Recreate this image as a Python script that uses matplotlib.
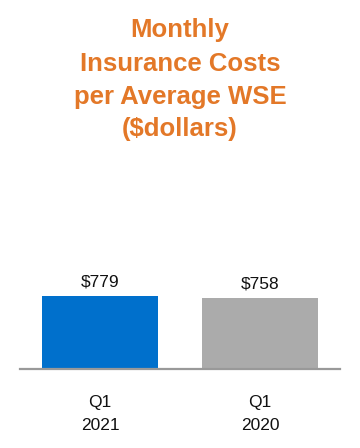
import numpy as np
import matplotlib.pyplot as plt

quarters = ["Q1\n2021", "Q1\n2020"]
costs = [779, 758]
labels = ["$779", "$758"]
colors = ["#0070CC", "#ABABAB"]

title_lines = ["Monthly", "Insurance Costs", "per Average WSE", "($dollars)"]

fig = plt.figure(figsize=(3.6, 4.48), dpi=100)
plt.rcParams['font.family'] = ['Liberation Sans', 'DejaVu Sans']

# axes: x 20..340 px, baseline at y=369, top at y=269
ax = fig.add_axes([20/360, 1-369/448, 320/360, 100/448])
x = np.arange(len(costs))
ax.bar(x, costs, width=0.72, color=colors)
ax.set_xlim(-0.5, 1.5)
ax.set_ylim(0, 779*100/73)

for xi, v, lab in zip(x, costs, labels):
    ax.annotate(lab, (xi, v), xytext=(0, 4.5), textcoords='offset points',
                ha='center', va='bottom', fontsize=12.5, color='#111111')

ax.set_xticks(x)
ax.set_xticklabels(quarters, fontsize=12.5, color='#111111', linespacing=1.65)
ax.tick_params(axis='x', length=0, pad=19)
ax.set_yticks([])
for s in ['top', 'left', 'right']:
    ax.spines[s].set_visible(False)
ax.spines['bottom'].set_color('#999999')
ax.spines['bottom'].set_linewidth(1.6)

ys = [30, 64, 97, 129]
for line, yy in zip(title_lines, ys):
    fig.text(0.5, 1-yy/448, line, ha='center', va='center', fontsize=18.5,
             fontweight='bold', color='#E37828')

fig.savefig("out.png", dpi=100)
